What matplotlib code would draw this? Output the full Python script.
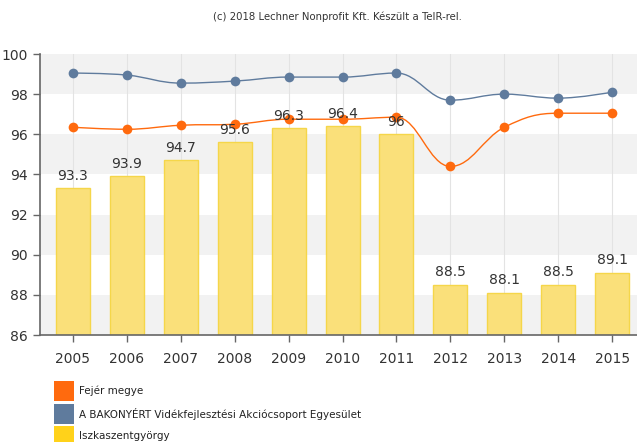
import numpy as np
import matplotlib
matplotlib.use("Agg")
import matplotlib.pyplot as plt
from matplotlib.path import Path
from matplotlib.patches import PathPatch, Rectangle

years = [2005, 2006, 2007, 2008, 2009, 2010, 2011, 2012, 2013, 2014, 2015]
iszka = [93.3, 93.9, 94.7, 95.6, 96.3, 96.4, 96.0, 88.5, 88.1, 88.5, 89.1]
fejer = [96.35, 96.25, 96.45, 96.5, 96.75, 96.75, 96.85, 94.4, 96.35, 97.05, 97.05]
bakony = [99.05, 98.95, 98.55, 98.65, 98.85, 98.85, 99.05, 97.7, 98.0, 97.8, 98.1]

series_names = ["Fejér megye",
                "A BAKONYÉRT Vidékfejlesztési Akciócsoport Egyesület",
                "Iszkaszentgyörgy"]
c_orange = "#FF6A0E"
c_blue = "#5F7B9D"
c_bar = "#FAE07A"
c_bar_edge = "#F5D64A"
c_legend_yellow = "#FFD21A"


def spline_path(xs, ys, smoothing=1.5):
    # Highcharts-like spline through the points
    xs = np.asarray(xs, float)
    ys = np.asarray(ys, float)
    n = len(xs)
    denom = smoothing + 1
    left = [(xs[i], ys[i]) for i in range(n)]
    right = [(xs[i], ys[i]) for i in range(n)]
    for i in range(1, n - 1):
        px, py = xs[i], ys[i]
        lx, ly = xs[i - 1], ys[i - 1]
        nx, ny = xs[i + 1], ys[i + 1]
        lcx = (smoothing * px + lx) / denom
        lcy = (smoothing * py + ly) / denom
        rcx = (smoothing * px + nx) / denom
        rcy = (smoothing * py + ny) / denom
        corr = ((rcy - lcy) * (rcx - px)) / (rcx - lcx) + py - rcy
        lcy += corr
        rcy += corr
        if lcy > ly and lcy > py:
            lcy = max(ly, py)
            rcy = 2 * py - lcy
        elif lcy < ly and lcy < py:
            lcy = min(ly, py)
            rcy = 2 * py - lcy
        if rcy > ny and rcy > py:
            rcy = max(ny, py)
            lcy = 2 * py - rcy
        elif rcy < ny and rcy < py:
            rcy = min(ny, py)
            lcy = 2 * py - rcy
        left[i] = (lcx, lcy)
        right[i] = (rcx, rcy)
    verts = [(xs[0], ys[0])]
    codes = [Path.MOVETO]
    for i in range(1, n):
        verts += [right[i - 1], left[i], (xs[i], ys[i])]
        codes += [Path.CURVE4] * 3
    return Path(verts, codes)


fig = plt.figure(figsize=(6.37, 4.42), dpi=100)
ax = fig.add_axes([40 / 637, (442 - 335) / 442, 1 - 40 / 637, (335 - 54) / 442])

x = np.arange(len(years))
ax.set_xlim(-0.61, 10.46)
ax.set_ylim(86, 100)

# alternating bands
for lo in range(86, 100, 2):
    if (lo - 86) % 4 == 0:
        ax.axhspan(lo, lo + 2, color="#F2F2F2", lw=0, zorder=0)
for xi in x:
    ax.axvline(xi, color="#E3E3E3", lw=0.8, zorder=0.5)

bars = ax.bar(x, [v - 86 for v in iszka], bottom=86, width=0.63,
              color=c_bar, edgecolor=c_bar_edge, lw=1, zorder=2)
for xi, v in zip(x, iszka):
    lab = f"{v:g}"
    ax.annotate(lab, (xi, v), xytext=(0, 4), textcoords="offset points",
                ha="center", va="bottom", fontsize=10, color="#333333", zorder=6)

for vals, col in [(bakony, c_blue), (fejer, c_orange)]:
    ax.add_patch(PathPatch(spline_path(x, vals), fill=False, edgecolor=col,
                           lw=1.0, zorder=3))
    ax.plot(x, vals, "o", color=col, ms=7, mec="none", zorder=4)

ax.set_xticks(x)
ax.set_xticklabels([str(y) for y in years])
ax.set_yticks(range(86, 101, 2))
ax.tick_params(axis="both", colors="#666666", labelcolor="#333333",
               labelsize=10, length=5, width=1)
ax.tick_params(axis="x", pad=7)
for side in ["top", "right"]:
    ax.spines[side].set_visible(False)
for side in ["left", "bottom"]:
    ax.spines[side].set_color("#666666")
    ax.spines[side].set_linewidth(1.2)

fig.text(337 / 637, 1 - 17 / 442,
         "(c) 2018 Lechner Nonprofit Kft. Készült a TeIR-rel.",
         ha="center", va="center", fontsize=7.3, color="#333333")

# legend
legend_cols = [c_orange, c_blue, c_legend_yellow]
legend_y = [391, 414, 436]
for name, col, yc in zip(series_names, legend_cols, legend_y):
    fig.patches.append(Rectangle((54 / 637, 1 - (yc + 10) / 442), 20 / 637, 20 / 442,
                                 transform=fig.transFigure, color=col, lw=0))
    fig.text(79 / 637, 1 - yc / 442, name, ha="left", va="center",
             fontsize=7.5, color="#222222")

fig.savefig("out.png", dpi=100)
